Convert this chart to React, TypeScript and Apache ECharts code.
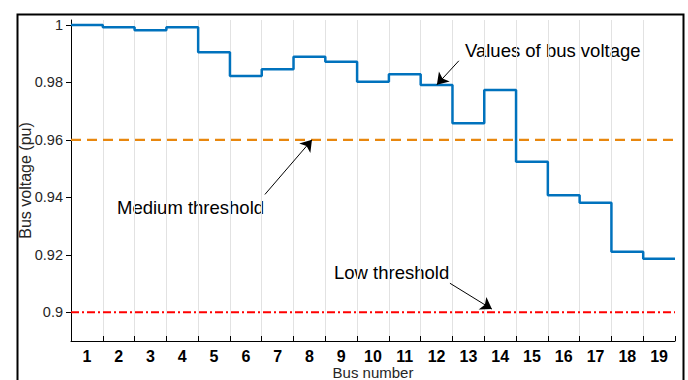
import React, { useEffect, useRef } from "react";
import * as echarts from "echarts";

const buses = ["1","2","3","4","5","6","7","8","9","10","11","12","13","14","15","16","17","18","19"];
const voltages = [1.0, 0.9992, 0.9981, 0.9992, 0.9905, 0.9822, 0.9846, 0.9889, 0.9872, 0.9802, 0.9828, 0.9791, 0.9658, 0.9773, 0.9524, 0.9407, 0.9381, 0.9211, 0.9186];
const mediumThreshold = 0.96;
const lowThreshold = 0.9;
const yTicks = [0.9, 0.92, 0.94, 0.96, 0.98, 1];
const yMin = 0.89;
const yMax = 1.0017;

// annotation arrows in data coordinates [bus, voltage]
const arrowValues = { from: [12.7, 0.9875], to: [12.01, 0.9792] };
const arrowMedium = { from: [6.6, 0.941], to: [8.08, 0.96] };
const arrowLow = { from: [12.42, 0.9101], to: [13.74, 0.9011] };

const FONT = "Liberation Sans, Arial, Helvetica, sans-serif";

export default function App() {
  const ref = useRef<HTMLDivElement>(null);
  useEffect(() => {
    if (!ref.current) return;
    const chart = echarts.init(ref.current, null, { renderer: "svg" });
    const n = buses.length;
    const stepData = voltages.map((v, i) => [i + 0.5, v]);
    stepData.push([n + 0.5, voltages[n - 1]]);
    const arrowItem = (a: { from: number[]; to: number[] }) => [
      { coord: a.from, symbol: "none" },
      { coord: a.to, symbol: "arrow" },
    ];
    chart.setOption({
      animation: false,
      grid: { left: 71, right: 13, top: 20, bottom: 39, containLabel: false, outerBoundsMode: "none" },
      xAxis: [
        {
          type: "category",
          data: buses,
          boundaryGap: true,
          name: "Bus number",
          nameLocation: "middle",
          nameGap: 24,
          nameMoveOverlap: false,
          nameTextStyle: { fontFamily: FONT, fontSize: 15, color: "#262626", verticalAlign: "top", lineHeight: 15 },
          axisLine: { lineStyle: { color: "#000", width: 1 } },
          axisTick: { show: true, inside: true, length: 5, lineStyle: { color: "#000" } },
          axisLabel: { fontFamily: FONT, fontSize: 16, fontWeight: "bold", color: "#000", margin: 8, lineHeight: 14 },
          splitLine: { show: true, showMaxLine: false, lineStyle: { color: "#e2e2e2", width: 1 } },
        },
        { type: "value", min: 0.5, max: n + 0.5, show: false },
      ],
      yAxis: {
        type: "value",
        min: yMin,
        max: yMax,
        name: "Bus voltage (pu)",
        nameLocation: "middle",
        nameGap: 38,
        nameMoveOverlap: false,
        nameTextStyle: { fontFamily: FONT, fontSize: 16, color: "#262626" },
        axisLine: { show: true, lineStyle: { color: "#000", width: 1 } },
        axisTick: { show: true, length: 5, customValues: yTicks, lineStyle: { color: "#000" } },
        axisLabel: { fontFamily: FONT, fontSize: 14.5, color: "#262626", customValues: yTicks, margin: 8 },
        splitLine: { show: false },
      },
      series: [
        {
          type: "line",
          xAxisIndex: 1,
          data: [[0.5, mediumThreshold], [n + 0.5, mediumThreshold]],
          symbol: "none",
          lineStyle: { color: "#E8870E", width: 2.2, type: [10, 6] },
          silent: true,
        },
        {
          type: "line",
          xAxisIndex: 1,
          data: [[0.5, lowThreshold], [n + 0.5, lowThreshold]],
          symbol: "none",
          lineStyle: { color: "#FF0000", width: 2.2, type: [8, 3, 2, 3] },
          silent: true,
        },
        {
          type: "line",
          xAxisIndex: 1,
          data: stepData,
          step: "end",
          symbol: "none",
          lineStyle: { color: "#0072BD", width: 2.5 },
          silent: true,
          markLine: {
            silent: true,
            symbol: ["none", "arrow"],
            symbolSize: 11,
            label: { show: false },
            lineStyle: { color: "#000", width: 1, type: "solid" },
            emphasis: { disabled: true },
            data: [arrowItem(arrowValues), arrowItem(arrowMedium), arrowItem(arrowLow)],
          },
        },
      ],
      graphic: [
        {
          type: "rect",
          left: 15,
          top: 12,
          shape: { width: 666, height: 420 },
          style: { fill: "none", stroke: "#000", lineWidth: 2 },
          silent: true,
        },
        {
          type: "text",
          left: 465,
          top: 41,
          style: { text: "Values of bus voltage", fontFamily: FONT, fontSize: 18.5, fill: "#000" },
        },
        {
          type: "text",
          left: 117,
          top: 198,
          style: { text: "Medium threshold", fontFamily: FONT, fontSize: 18.5, fill: "#000" },
        },
        {
          type: "text",
          left: 334,
          top: 263,
          style: { text: "Low threshold", fontFamily: FONT, fontSize: 18.5, fill: "#000" },
        },
      ],
    });
    return () => chart.dispose();
  }, []);
  return (
    <div
      ref={ref}
      style={{ position: "fixed", left: 0, top: 0, width: 688, height: 380, background: "#fff" }}
    />
  );
}
